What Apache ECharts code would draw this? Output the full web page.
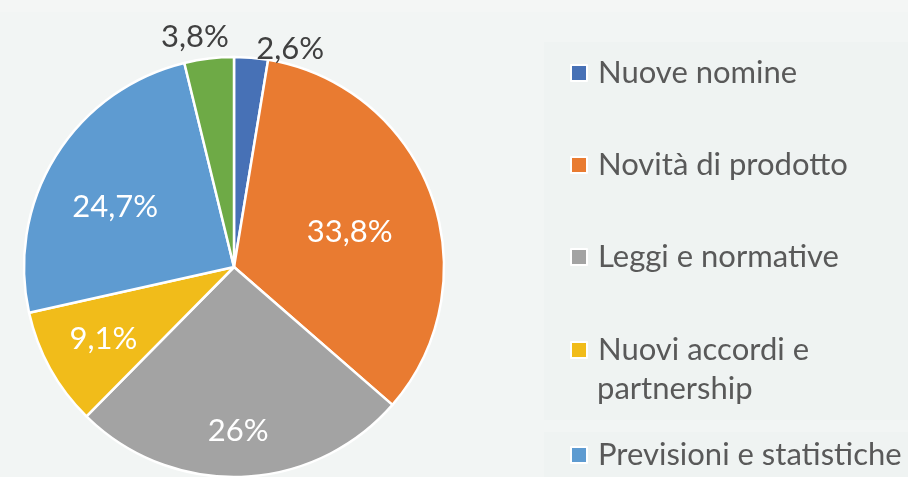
<!DOCTYPE html>
<html>
<head>
<meta charset="utf-8">
<script src="https://cdn.jsdelivr.net/npm/echarts@6/dist/echarts.min.js"></script>
<style>
  html, body { margin: 0; padding: 0; background: #f2f5f4; }
  #main { width: 908px; height: 477px; }
</style>
</head>
<body>
<div id="main"></div>
<script>
const chart = echarts.init(document.getElementById('main'));

const categories = ['Nuove nomine', 'Novità di prodotto', 'Leggi e normative', 'Nuovi accordi e partnership', 'Previsioni e statistiche', 'Altro']
const values = [2.6, 33.8, 26, 9.1, 24.7, 3.8]
const labelsText = ['2,6%', '33,8%', '26%', '9,1%', '24,7%', '3,8%']
const colors = ['#4771b6', '#e97b31', '#a3a3a3', '#f1bc1a', '#5e9bd1', '#6eaa46']
const legendTops = [73, 165, 257, 350, 455] // centro verticale delle voci

const font = 'Lato, "Open Sans", sans-serif'

// spostamento delle etichette rispetto alla posizione di default (come in Excel)
const labelShift = [[0, -7], [14, 2], [0, 56], [-36, 20], [-27, -3], [25, -20]]

const data = categories.map((name, i) => {
    const outside = i === 0 || i === 5
    return {
        name: name,
        value: values[i],
        itemStyle: { color: colors[i] },
        label: outside ? {
            position: 'outside',
            color: '#404040'
        } : {
            position: 'inside',
            color: '#ffffff'
        }
    }
})

const legends = legendTops.map((top, i) => ({
    data: [categories[i]],
    orient: 'vertical',
    left: 570,
    top: top - 19,
    padding: 0,
    itemWidth: 16,
    itemHeight: 16,
    icon: 'rect',
    selectedMode: false,
    formatter: name => name === 'Nuovi accordi e partnership' ? 'Nuovi accordi e' : name,
    textStyle: {
        fontFamily: font,
        fontSize: 31,
        color: '#595959',
        lineHeight: 38,
        padding: [0, 0, 0, 6]
    }
}))

const option = {
    backgroundColor: '#f2f5f4',
    animation: false,
    graphic: [
        { type: 'rect', shape: { x: 0, y: 0, width: 908, height: 12 }, style: { fill: '#f4f6f5' }, silent: true, z: -1 },
        { type: 'rect', shape: { x: 544, y: 42, width: 364, height: 378 }, style: { fill: '#eff3f2' }, silent: true, z: -1 },
        { type: 'rect', shape: { x: 544, y: 432, width: 364, height: 45 }, style: { fill: '#eff3f2' }, silent: true, z: -1 },
        {
            type: 'text',
            left: 597,
            top: 373,
            style: { text: 'partnership', font: '31px ' + font, fill: '#595959' }
        }
    ],
    legend: legends,
    series: [{
        type: 'pie',
        center: [234, 267],
        radius: [0, 210],
        startAngle: 90,
        clockwise: true,
        avoidLabelOverlap: false,
        itemStyle: { borderColor: '#ffffff', borderWidth: 2.5 },
        label: {
            show: true,
            fontFamily: font,
            fontSize: 31,
            formatter: p => labelsText[p.dataIndex]
        },
        labelLayout: p => ({ dx: labelShift[p.dataIndex][0], dy: labelShift[p.dataIndex][1] }),
        labelLine: { show: false, length: 2, length2: 0 },
        emphasis: { disabled: true },
        data: data
    }]
};

chart.setOption(option);
</script>
</body>
</html>
